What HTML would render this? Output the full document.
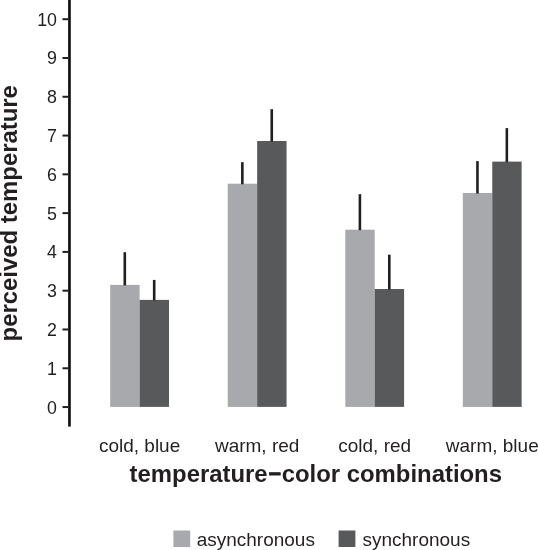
<!DOCTYPE html>
<html lang="en">
<head>
<meta charset="utf-8">
<title>perceived temperature</title>
<style>
html,body{margin:0;padding:0;background:#fff;}
body{width:538px;height:550px;overflow:hidden;}
svg{display:block;}
text{font-family:"Liberation Sans",Arial,Helvetica,sans-serif;fill:#231f20;}
.t{font-size:18px;}
.b{font-size:23.9px;font-weight:bold;}
</style>
</head>
<body>
<svg width="538" height="550" viewBox="0 0 538 550">
<rect x="0" y="0" width="538" height="550" fill="#ffffff"/>
<rect x="68.1" y="-2" width="2.7" height="428.6" fill="#151213"/>
<rect x="62.5" y="406.05" width="6" height="2" fill="#231f20"/>
<text class="t" transform="translate(57.0 413.55) scale(0.99 1)" text-anchor="end">0</text>
<rect x="62.5" y="367.26" width="6" height="2" fill="#231f20"/>
<text class="t" transform="translate(57.0 374.76) scale(0.99 1)" text-anchor="end">1</text>
<rect x="62.5" y="328.48" width="6" height="2" fill="#231f20"/>
<text class="t" transform="translate(57.0 335.98) scale(0.99 1)" text-anchor="end">2</text>
<rect x="62.5" y="289.70" width="6" height="2" fill="#231f20"/>
<text class="t" transform="translate(57.0 297.20) scale(0.99 1)" text-anchor="end">3</text>
<rect x="62.5" y="250.91" width="6" height="2" fill="#231f20"/>
<text class="t" transform="translate(57.0 258.41) scale(0.99 1)" text-anchor="end">4</text>
<rect x="62.5" y="212.13" width="6" height="2" fill="#231f20"/>
<text class="t" transform="translate(57.0 219.63) scale(0.99 1)" text-anchor="end">5</text>
<rect x="62.5" y="173.34" width="6" height="2" fill="#231f20"/>
<text class="t" transform="translate(57.0 180.84) scale(0.99 1)" text-anchor="end">6</text>
<rect x="62.5" y="134.56" width="6" height="2" fill="#231f20"/>
<text class="t" transform="translate(57.0 142.06) scale(0.99 1)" text-anchor="end">7</text>
<rect x="62.5" y="95.77" width="6" height="2" fill="#231f20"/>
<text class="t" transform="translate(57.0 103.27) scale(0.99 1)" text-anchor="end">8</text>
<rect x="62.5" y="56.99" width="6" height="2" fill="#231f20"/>
<text class="t" transform="translate(57.0 64.49) scale(0.99 1)" text-anchor="end">9</text>
<rect x="62.5" y="18.20" width="6" height="2" fill="#231f20"/>
<text class="t" transform="translate(57.0 25.70) scale(0.99 1)" text-anchor="end">10</text>
<rect x="110.20" y="284.90" width="29.40" height="122.00" fill="#a7a9ac"/>
<rect x="139.60" y="299.90" width="29.40" height="107.00" fill="#58595b"/>
<rect x="123.50" y="252.20" width="2.6" height="33.20" fill="#231f20"/>
<rect x="152.90" y="279.90" width="2.6" height="20.50" fill="#231f20"/>
<text class="t" transform="translate(139.60 452.0) scale(1.055 1)" text-anchor="middle">cold, blue</text>
<rect x="227.75" y="183.70" width="29.40" height="223.20" fill="#a7a9ac"/>
<rect x="257.15" y="141.00" width="29.40" height="265.90" fill="#58595b"/>
<rect x="241.05" y="162.20" width="2.6" height="22.00" fill="#231f20"/>
<rect x="270.45" y="109.20" width="2.6" height="32.30" fill="#231f20"/>
<text class="t" transform="translate(257.15 452.0) scale(1.055 1)" text-anchor="middle">warm, red</text>
<rect x="345.30" y="229.70" width="29.40" height="177.20" fill="#a7a9ac"/>
<rect x="374.70" y="289.00" width="29.40" height="117.90" fill="#58595b"/>
<rect x="358.60" y="194.20" width="2.6" height="36.00" fill="#231f20"/>
<rect x="388.00" y="254.70" width="2.6" height="34.80" fill="#231f20"/>
<text class="t" transform="translate(374.70 452.0) scale(1.055 1)" text-anchor="middle">cold, red</text>
<rect x="462.85" y="193.00" width="29.40" height="213.90" fill="#a7a9ac"/>
<rect x="492.25" y="161.60" width="29.40" height="245.30" fill="#58595b"/>
<rect x="476.15" y="161.10" width="2.6" height="32.40" fill="#231f20"/>
<rect x="505.55" y="128.10" width="2.6" height="34.00" fill="#231f20"/>
<text class="t" transform="translate(492.25 452.0) scale(1.055 1)" text-anchor="middle">warm, blue</text>
<text class="b" x="315.8" y="482" text-anchor="middle">temperature<tspan font-size="21.5" dx="0.7" dy="-1.3" stroke="#231f20" stroke-width="0.9">−</tspan><tspan dx="0.7" dy="1.3">color combinations</tspan></text>
<text class="b" transform="translate(17.4 213.25) rotate(-90)" text-anchor="middle">perceived temperature</text>
<rect x="173.4" y="530.5" width="16.8" height="16.5" fill="#a7a9ac"/>
<text class="t" transform="translate(196.7 545.8) scale(1.055 1)">asynchronous</text>
<rect x="338.6" y="530.5" width="16.8" height="16.5" fill="#58595b"/>
<text class="t" transform="translate(362.5 545.8) scale(1.055 1)">synchronous</text>
</svg>
</body>
</html>
